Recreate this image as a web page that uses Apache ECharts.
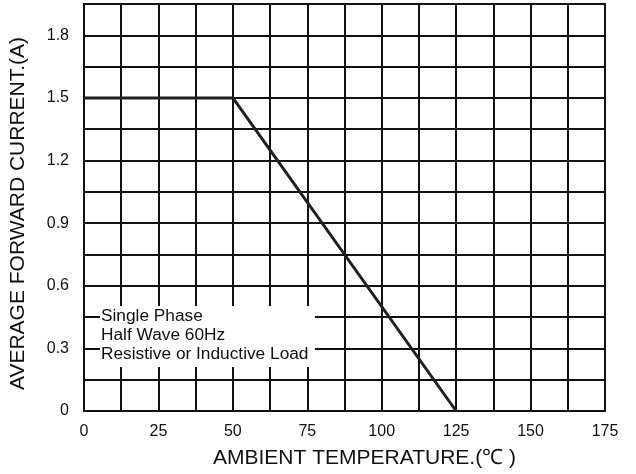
<!DOCTYPE html>
<html>
<head>
<meta charset="utf-8">
<script src="https://cdn.jsdelivr.net/npm/echarts@6/dist/echarts.min.js"></script>
<style>html,body{margin:0;padding:0;background:#fff}#c{width:636px;height:474px}</style>
</head>
<body>
<div id="c"></div>
<script>
// Data
var temperature = [0, 50, 125];
var current = [1.5, 1.5, 0];
var xTitle = 'AMBIENT TEMPERATURE.(\u2103 )';
var yTitle = 'AVERAGE FORWARD CURRENT.(A)';
var noteLines = ['Single Phase', 'Half Wave 60Hz', 'Resistive or Inductive Load'];

var FONT = '"Liberation Sans", Arial, sans-serif';
var chart = echarts.init(document.getElementById('c'));
var pts = temperature.map(function (t, i) { return [t, current[i]]; });

chart.setOption({
  animation: false,
  backgroundColor: '#fff',
  grid: { left: 83, right: 31, top: 4, bottom: 62, show: true, borderColor: '#111', borderWidth: 2, backgroundColor: 'transparent' },
  xAxis: {
    type: 'value', min: 0, max: 175, interval: 12.5,
    name: xTitle, nameLocation: 'middle', nameGap: 37,
    nameTextStyle: { fontFamily: FONT, fontSize: 21, color: '#111', padding: [0, 0, 0, 40] },
    axisLine: { show: true, lineStyle: { color: '#111', width: 2 } },
    axisTick: { show: false },
    axisLabel: {
      fontFamily: FONT, fontSize: 16, color: '#111', margin: 13,
      showMinLabel: true, showMaxLabel: true,
      formatter: function (v) { return (Math.abs(v / 25 - Math.round(v / 25)) < 1e-6) ? String(Math.round(v)) : ''; }
    },
    splitLine: { show: true, lineStyle: { color: '#111', width: 2 } }
  },
  yAxis: {
    type: 'value', min: 0, max: 1.95, interval: 0.15,
    name: yTitle, nameLocation: 'middle', nameGap: 55,
    nameTextStyle: { fontFamily: FONT, fontSize: 21, color: '#111', padding: [0, 12, 0, 0] },
    axisLine: { show: true, lineStyle: { color: '#111', width: 2 } },
    axisTick: { show: false },
    axisLabel: {
      fontFamily: FONT, fontSize: 16, color: '#111', margin: 15,
      formatter: function (v) {
        var r = v / 0.3;
        if (Math.abs(r - Math.round(r)) > 1e-6) return '';
        return v === 0 ? '0' : v.toFixed(1);
      }
    },
    splitLine: { show: true, lineStyle: { color: '#111', width: 2 } }
  },
  graphic: [
    { type: 'rect', z: 100, shape: { x: 100, y: 306, width: 215, height: 61 }, style: { fill: '#fff' } },
    { type: 'text', z: 101, x: 101, y: 307, scaleX: 1.08, style: { text: noteLines.join('\n'), font: '16px ' + FONT, fill: '#111', lineHeight: 19 } }
  ],
  series: [{
    type: 'line', data: pts, symbol: 'none', z: 5,
    lineStyle: { color: '#231f20', width: 3 }
  }]
});
</script>
</body>
</html>
